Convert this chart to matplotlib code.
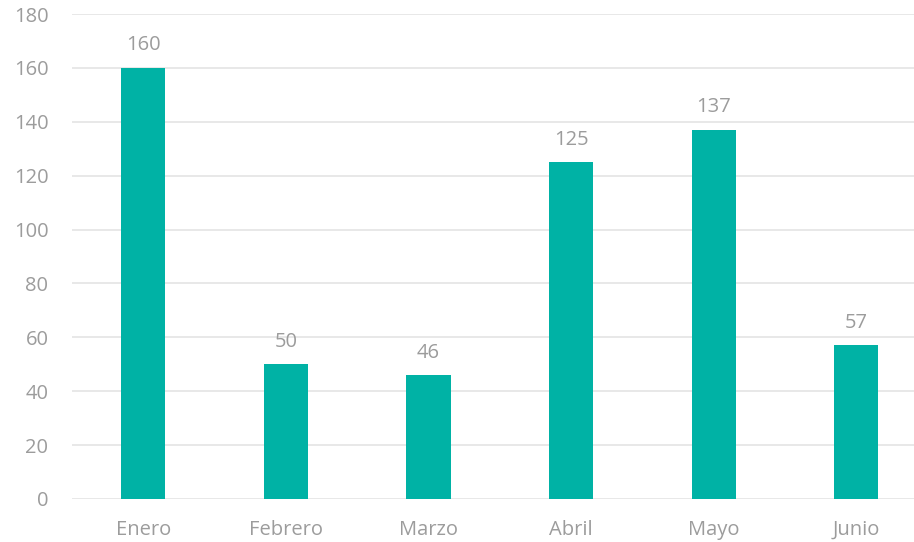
import matplotlib
matplotlib.use("Agg")
import matplotlib.pyplot as plt

categories = ["Enero", "Febrero", "Marzo", "Abril", "Mayo", "Junio"]
values = [160, 50, 46, 125, 137, 57]
yticks = [0, 20, 40, 60, 80, 100, 120, 140, 160, 180]

plt.rcParams['font.family'] = ['Open Sans', 'DejaVu Sans']
W, H = 914, 542
fig = plt.figure(figsize=(W/100, H/100), dpi=100)
ax = fig.add_axes([72/W, (H-499)/H, (W-72)/W, (499-14)/H])

bar_color = "#00B2A5"
text_color = "#9C9C9C"
x = list(range(len(categories)))
ax.bar(x, values, width=0.31, color=bar_color, zorder=3)
for xi, v in zip(x, values):
    ax.annotate(str(v), (xi, v), xytext=(0, 9), textcoords="offset points",
                ha="center", va="bottom", fontsize=14.5, color=text_color)

ax.set_ylim(0, 180)
ax.set_xlim(-0.5, (W-72)/142.6 - 0.5)
ax.set_yticks(yticks)
ax.set_xticks(x)
ax.set_xticklabels(categories)
ax.grid(axis="y", color="#E4E4E4", linewidth=1.2, zorder=0)
for s in ax.spines.values():
    s.set_visible(False)
ax.tick_params(axis="both", length=0, labelsize=14.5, colors=text_color)
ax.tick_params(axis="y", pad=17)
ax.tick_params(axis="x", pad=15)

fig.savefig("out.png", dpi=100)
